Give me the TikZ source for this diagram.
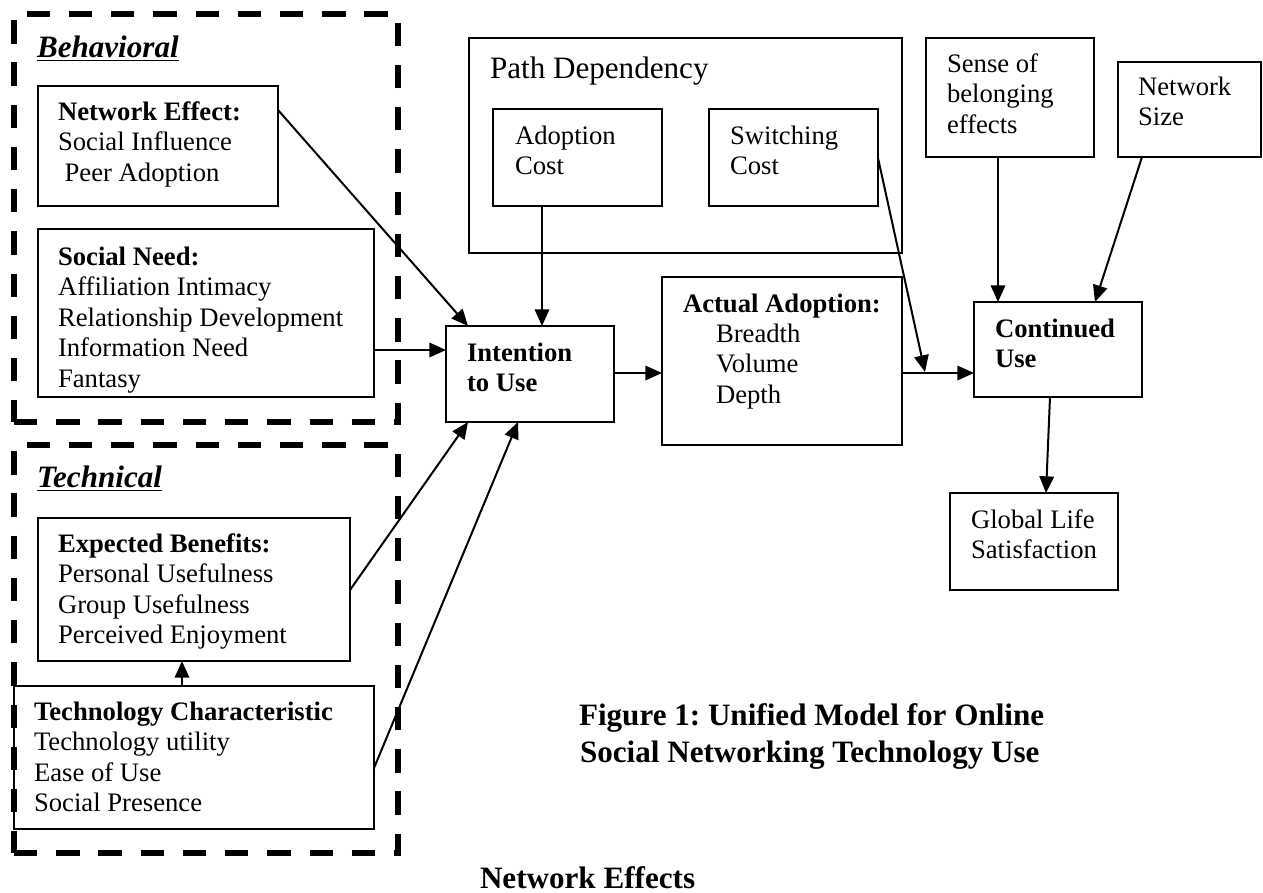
\documentclass[tikz,border=0pt]{standalone}
\usepackage{fontspec}
\setmainfont{Liberation Serif}
\usetikzlibrary{arrows.meta,calc}
\frenchspacing

% one text line per node, stacked at a fixed leading
\newcommand\stacklines[5]{%
  \foreach \ln [count=\k] in {#5}
    \node[txt,#4] (#1-\k) at (#2,{#3+30.5*(\k-1)}) {\ln};%
}
% rectangle given by its corners (x1,y1,x2,y2)
\newcommand\boxat[6][]{%
  \node[box,#1,minimum width={(#5-#3)*0.45pt},minimum height={(#6-#4)*0.45pt}]
    (#2) at ({(#3+#5)/2},{(#4+#6)/2}) {};%
}

\begin{document}
\begin{tikzpicture}[x=0.45pt,y=-0.45pt,
  box/.style={draw,line width=0.9pt,inner sep=0pt,outer sep=0pt},
  group/.style={draw,line width=2.3pt,dash pattern=on 10.5pt off 8.5pt},
  txt/.style={inner sep=0pt,outer sep=0pt,anchor=base west,font=\fontsize{12}{14}\selectfont},
  head/.style={inner sep=0pt,outer sep=0pt,anchor=base west,font=\fontsize{14}{16}\selectfont},
  arr/.style={line width=0.9pt,-{Triangle[length=7.5pt,width=6.5pt]}},
  link/.style={line width=0.9pt}]

\useasboundingbox (0,0) rectangle (1263,892);

% dashed groups
\boxat[group]{beh}{14}{14}{398}{422}
\boxat[group]{tech}{14}{445}{398}{853}
\node[head,font=\fontsize{14}{16}\selectfont\bfseries\itshape] (behT) at (37,57) {\underline{Behavioral}};
\node[head,font=\fontsize{14}{16}\selectfont\bfseries\itshape] (techT) at (37,487) {\underline{Technical}};

% boxes
\boxat{ne}{38}{86}{278}{206}
\boxat{sn}{38}{229}{374}{397}
\boxat{eb}{38}{518}{350}{661}
\boxat{tc}{14}{686}{374}{829}
\boxat{pd}{469}{38}{902}{253}
\boxat{ac}{493}{109}{662}{206}
\boxat{sc}{709}{109}{878}{206}
\boxat{it}{446}{326}{614}{422}
\boxat{aa}{662}{277}{902}{445}
\boxat{sb}{926}{38}{1094}{157}
\boxat{ns}{1118}{62}{1261}{157}
\boxat{cu}{974}{302}{1142}{397}
\boxat{gl}{950}{493}{1118}{590}

% box texts
\stacklines{neT}{58}{120}{}{\textbf{Network Effect:},Social Influence,\hspace*{3pt}Peer Adoption}
\stacklines{snT}{58}{265}{}{\textbf{Social Need:},Affiliation Intimacy,Relationship Development,Information Need,Fantasy}
\stacklines{ebT}{58}{552}{}{\textbf{Expected Benefits:},Personal Usefulness,Group Usefulness,Perceived Enjoyment}
\stacklines{tcT}{34}{720}{}{\textbf{Technology Characteristic},Technology utility,Ease of Use,Social Presence}
\node[head] (pdT) at (490,78) {Path Dependency};
\stacklines{acT}{515}{144}{}{Adoption,Cost}
\stacklines{scT}{730}{144}{}{Switching,Cost}
\stacklines{itT}{467}{361}{font=\fontsize{12}{14}\selectfont\bfseries}{Intention,to Use}
\node[txt,font=\fontsize{12}{14}\selectfont\bfseries] (aaT) at (683,312) {Actual Adoption:};
\stacklines{aaL}{716}{342}{}{Breadth,Volume,Depth}
\stacklines{sbT}{947}{72}{}{Sense of,belonging,effects}
\stacklines{nsT}{1138}{95}{}{Network,Size}
\stacklines{cuT}{995}{337}{font=\fontsize{12}{14}\selectfont\bfseries}{Continued,Use}
\stacklines{glT}{971}{528}{}{Global Life,Satisfaction}

% caption lines
\node[head,font=\fontsize{14}{16}\selectfont\bfseries] (cap1) at (579,725) {Figure 1: Unified Model for Online};
\node[head,font=\fontsize{14}{16}\selectfont\bfseries] (cap2) at (580,762) {Social Networking Technology Use};
\node[head,font=\fontsize{14}{16}\selectfont\bfseries] (neff) at (480,888) {Network Effects};

% connectors
\draw[arr] ($(ne.north east)+(0,24)$) -- ($(it.north west)+(22,0)$);
\draw[arr] ($(sn.north east)+(0,121)$) -- ($(it.north west)+(0,24)$);
\draw[arr] ($(eb.north east)+(0,72)$) -- ($(it.south west)+(22,0)$);
\draw[arr] ($(tc.north east)+(0,82)$) -- ($(it.south west)+(72,0)$);
\draw[arr] ($(tc.north west)+(168,0)$) -- ($(eb.south west)+(144,0)$);
\draw[arr] ($(ac.south west)+(49,0)$) -- ($(it.north west)+(96,0)$);
\draw[arr] ($(it.north east)+(0,47)$) -- ($(aa.north west)+(0,96)$);
\draw[arr] ($(aa.north east)+(0,96)$) -- ($(cu.north west)+(0,71)$);
\coordinate (join) at ($(aa.north east)+(23,95)$);
\draw[arr] ($(sc.north east)+(0,49)$) -- (join);
\draw[arr] ($(sb.south west)+(72,0)$) -- ($(cu.north west)+(24,0)$);
\draw[arr] ($(ns.south west)+(24,0)$) -- ($(cu.north west)+(121,0)$);
\draw[arr] ($(cu.south west)+(76,0)$) -- ($(gl.north west)+(96,0)$);
\end{tikzpicture}
\end{document}
